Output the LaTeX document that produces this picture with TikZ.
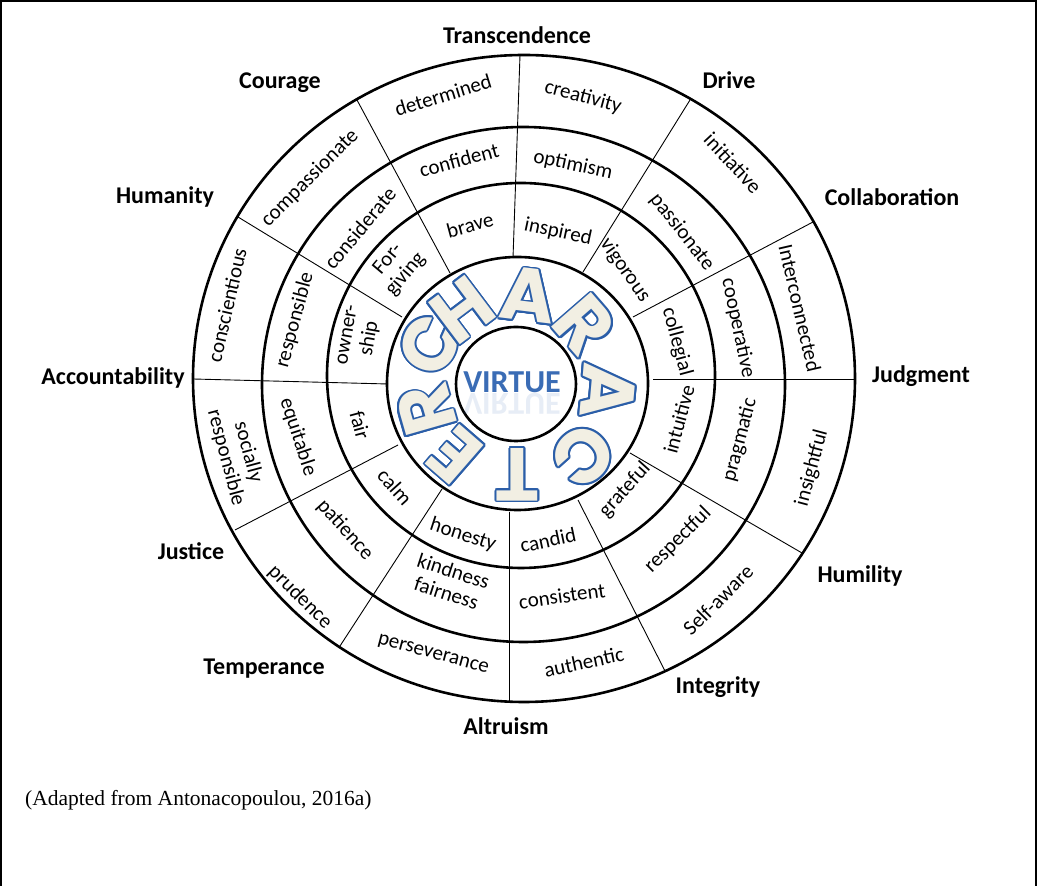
\documentclass[tikz,border=0pt]{standalone}
\usepackage{fontspec}
\setmainfont{Carlito}
\newfontfamily\capfont{Liberation Serif}
\newfontfamily\bigfont{Poppins}
\usetikzlibrary{calc}
\definecolor{ringblue}{HTML}{2B5EA8}
\definecolor{cream}{HTML}{F2EFE3}
\definecolor{virtueblue}{HTML}{3A6CB5}
\newcommand\cell[5]{\node[celltext, rotate=#4] (#1) at (#2,{886-#3}) {#5};}
\newcommand\grp[4]{\node[grouplabel] (#1) at (#2,{886-#3}) {#4};}
\newcommand\bigchar[4]{%
  \foreach \a in {0,22.5,...,337.5} {%
    \node[bigletter, text=ringblue, rotate={#2-90}] at ($(c4)+(#2:#3pt)+(\a:1.8pt)$) {#4};}
  \node[bigletter, text=cream, rotate={#2-90}] (#1) at ($(c4)+(#2:#3pt)$) {#4};}
\begin{document}
\begin{tikzpicture}[x=1pt,y=1pt,
  ringline/.style={line width=2.6pt},
  divline/.style={line width=0.9pt},
  celltext/.style={font=\fontsize{21}{23}\selectfont, align=center, inner sep=0pt},
  grouplabel/.style={font=\fontsize{24}{28}\selectfont\bfseries, inner sep=0pt},
  bigletter/.style={font=\bigfont\bfseries\fontsize{75}{75}\selectfont, inner sep=0pt}]
\useasboundingbox (0,0) rectangle (1037,886);
\fill[white] (0,0) rectangle (1037,886);
\draw[line width=2pt] (1,-5) -- (1,885) -- (1036,885) -- (1036,-5);
% rings
\coordinate (c0) at (524,507.5);
\coordinate (c2) at (523.5,501.5);
\coordinate (c3) at (521,510.5);
\coordinate (c4) at (517.5,502.5);
\coordinate (c5) at (516,502);
\draw[ringline] (c0) ellipse [x radius=331pt, y radius=323.5pt];
\draw[ringline] (c2) ellipse [x radius=261.5pt, y radius=257.5pt];
\draw[ringline] (c3) ellipse [x radius=194pt, y radius=192.5pt];
\draw[ringline] (c4) ellipse [x radius=130.5pt, y radius=126.5pt];
\draw[ringline] (c5) ellipse [x radius=60pt, y radius=57pt];
% dividers
\coordinate (d1a) at (513,628); \coordinate (d1b) at (520,831);
\coordinate (d2a) at (509,374); \coordinate (d2b) at (509,184);
\coordinate (d3a) at (388,502); \coordinate (d3b) at (193,507);
\coordinate (d4a) at (653,507); \coordinate (d4b) at (855,507);
\coordinate (d5a) at (450,613); \coordinate (d5b) at (357,786);
\coordinate (d6a) at (583,614); \coordinate (d6b) at (690,786);
\coordinate (d7a) at (633,569); \coordinate (d7b) at (813,664);
\coordinate (d8a) at (630,433); \coordinate (d8b) at (802,333);
\coordinate (d9a) at (578,386); \coordinate (d9b) at (665,215);
\coordinate (d10a) at (442,397); \coordinate (d10b) at (340,240);
\coordinate (d11a) at (398,441); \coordinate (d11b) at (235,356);
\coordinate (d12a) at (402,569); \coordinate (d12b) at (238,669);
\foreach \i in {1,...,12} {\draw[divline] (d\i a) -- (d\i b);}
% outer band
\cell{o1}{443}{95}{17}{determined}
\cell{o2}{583}{97}{-15}{creativity}
\cell{o3}{733}{163}{-47}{initiative}
\cell{o4}{800}{308}{-77}{Interconnected}
\cell{o5}{812}{468}{75}{insightful}
\cell{o6}{718}{600}{45}{Self-aware}
\cell{o7}{584}{662}{12}{authentic}
\cell{o8}{433}{655}{-15}{perseverance}
\cell{o9}{300}{597}{-45}{prudence}
\cell{o10}{237}{455}{-75}{socially\\responsible}
\cell{o11}{227}{305}{77}{conscientious}
\cell{o12}{310}{178}{45}{compassionate}
% second band
\cell{m1}{459}{160}{15}{confident}
\cell{m2}{573}{165}{-12}{optimism}
\cell{m3}{682}{232}{-52}{passionate}
\cell{m4}{738}{328}{-78}{cooperative}
\cell{m5}{740}{440}{75}{pragmatic}
\cell{m6}{678}{540}{45}{respectful}
\cell{m7}{562}{596}{8}{consistent}
\cell{m8}{450}{582}{-18}{kindness\\fairness}
\cell{m9}{345}{530}{-48}{patience}
\cell{m10}{298}{437}{-72}{equitable}
\cell{m11}{295}{320}{75}{responsible}
\cell{m12}{360}{228}{50}{considerate}
% third band
\cell{i1}{470}{225}{15}{brave}
\cell{i2}{558}{232}{-12}{inspired}
\cell{i3}{625}{270}{-55}{vigorous}
\cell{i4}{677}{342}{-75}{collegial}
\cell{i5}{679}{419}{75}{intuitive}
\cell{i6}{625}{490}{48}{grateful}
\cell{i7}{548}{540}{12}{candid}
\cell{i8}{463}{535}{-18}{honesty}
\cell{i9}{395}{487}{-48}{calm}
\cell{i10}{360}{425}{-75}{fair}
\cell{i11}{360}{337}{80}{owner-\\ship}
\cell{i12}{397}{267}{50}{For-\\giving}
% group labels
\grp{g1}{517}{35}{Transcendence}
\grp{g2}{729}{80}{Drive}
\grp{g3}{892}{197}{Collaboration}
\grp{g4}{921}{376}{Judgment}
\grp{g5}{860}{576}{Humility}
\grp{g6}{718}{687}{Integrity}
\grp{g7}{506}{726}{Altruism}
\grp{g8}{264}{669}{Temperance}
\grp{g9}{191}{551}{Justice}
\grp{g10}{113}{378}{Accountability}
\grp{g11}{165}{197}{Humanity}
\grp{g12}{280}{83}{Courage}
% CHARACTER
\bigchar{L1}{156}{96}{C}
\bigchar{L2}{127}{92}{H}
\bigchar{L3}{83}{89}{A}
\bigchar{L4}{41}{89}{R}
\bigchar{L5}{-5}{91}{A}
\bigchar{L6}{-48}{98}{C}
\bigchar{L7}{-90}{91}{T}
\bigchar{L8}{-131}{95}{E}
\bigchar{L9}{-164}{95}{R}
% VIRTUE
\node[font=\fontsize{32}{32}\selectfont\bfseries, text=virtueblue, inner sep=0pt, yscale=-1, opacity=0.12] (virtuerefl) at (512,482) {VIRTUE};
\node[font=\fontsize{32}{32}\selectfont\bfseries, text=virtueblue, inner sep=0pt] (virtue) at (512,504) {VIRTUE};
% caption
\node[anchor=west, font=\capfont\fontsize{21.5}{24}\selectfont, inner sep=0pt] (cap) at (25,86) {(Adapted from Antonacopoulou, 2016a)};
\end{tikzpicture}
\end{document}
